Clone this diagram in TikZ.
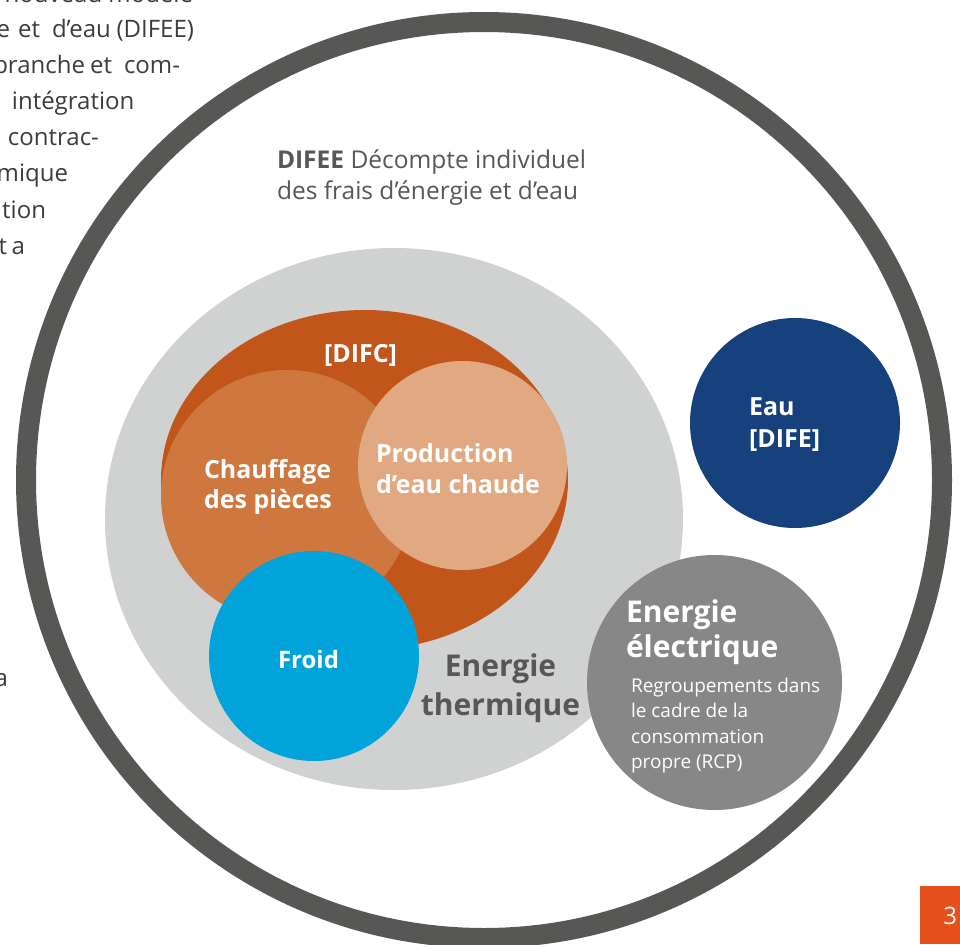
\documentclass[tikz,border=0pt]{standalone}
\usepackage{fontspec}
\setmainfont{Open Sans}
\definecolor{ringgray}{HTML}{575756}
\definecolor{lightgray}{HTML}{D0D2D1}
\definecolor{difc}{HTML}{C2561A}
\definecolor{chauf}{HTML}{CE773F}
\definecolor{prod}{HTML}{E1A981}
\definecolor{froid}{HTML}{00A3DA}
\definecolor{eau}{HTML}{16417C}
\definecolor{elec}{HTML}{878787}
\definecolor{pagered}{HTML}{E6501D}
\definecolor{bodytext}{HTML}{3C3C3B}
\begin{document}
\begin{tikzpicture}[x=1pt,y=-1pt,
  every node/.style={inner sep=0pt, outer sep=0pt},
  body/.style={font=\fontsize{24}{36}\selectfont, text=bodytext},
  caption/.style={font=\fontsize{24.5}{30}\selectfont, text=ringgray},
  inlabel/.style={font=\bfseries\fontsize{25}{30}\selectfont, text=white, anchor=base west},
  biglabel/.style={font=\bfseries\fontsize{30}{36}\selectfont},
  small/.style={font=\fontsize{19}{25}\selectfont, text=white, anchor=base west}]
\useasboundingbox (0,0) rectangle (960,944);
\begin{scope}
\clip (0,0) rectangle (960,944);
\fill[white] (0,0) rectangle (960,944);
% left column text fragments
\node[body, anchor=base east] (l1) at (193,3) {nouveau modèle};
\node[body, anchor=base east] (l2a) at (10,38) {e};
\node[body, anchor=base east] (l2b) at (40,38) {et};
\node[body, anchor=base west] (l2c) at (52,38) {d’eau};
\node[body, anchor=base east] (l2d) at (194,38) {(DIFEE)};
\node[body, anchor=base east] (l3a) at (85,74) {branche};
\node[body, anchor=base east] (l3b) at (112,74) {et};
\node[body, anchor=base east] (l3c) at (180,74) {com-};
\node[body, anchor=base west] (l4) at (12,110) {intégration};
\node[body, anchor=base west] (l5) at (8,146) {contrac-};
\node[body, anchor=base east] (l6) at (68,182) {mique};
\node[body, anchor=base east] (l7) at (46,218) {tion};
\node[body, anchor=base east] (l8a) at (7,254) {t};
\node[body, anchor=base east] (l8b) at (25,254) {a};
\node[body, anchor=base east] (l9) at (8,686) {a};
% outer ring
\draw[ringgray, line width=20pt] (484,480) circle[radius=458pt];
% circles
\fill[lightgray] (394,519) ellipse[x radius=289pt, y radius=271pt];
\fill[difc] (364.5,480) ellipse[x radius=203.5pt, y radius=170pt];
\fill[chauf] (287,496) circle[radius=126pt];
\fill[prod] (462.5,465.5) circle[radius=104.5pt];
\fill[froid] (314,656) circle[radius=105pt];
\fill[eau] (795,423) circle[radius=105pt];
\fill[elec] (714.5,682.5) circle[radius=127.5pt];
% caption
\node[caption, anchor=base west] (c1) at (277,169) {\textbf{DIFEE} Décompte individuel};
\node[caption, anchor=base west] (c2) at (277,199) {des frais d’énergie et d’eau};
% labels
\node[font=\bfseries\fontsize{25}{30}\selectfont, text=white, anchor=base] (difc) at (360.5,362) {[DIFC]};
\node[inlabel] (ch1) at (204,478) {Chauffage};
\node[inlabel] (ch2) at (204,508) {des pièces};
\node[inlabel] (pr1) at (376,462) {Production};
\node[inlabel] (pr2) at (376,493) {d’eau chaude};
\node[inlabel, font=\bfseries\fontsize{24}{30}\selectfont] (fr) at (278,668) {Froid};
\node[biglabel, text=ringgray, anchor=base] (th1) at (500.5,676) {Energie};
\node[biglabel, text=ringgray, anchor=base] (th2) at (500.5,715) {thermique};
\node[inlabel] (ea1) at (749,415) {Eau};
\node[inlabel] (ea2) at (749,447) {[DIFE]};
\node[biglabel, text=white, anchor=base west] (el1) at (626,622) {Energie};
\node[biglabel, text=white, anchor=base west] (el2) at (626,657) {électrique};
\node[small] (r1) at (631,692) {Regroupements dans};
\node[small] (r2) at (631,717) {le cadre de la};
\node[small] (r3) at (631,743) {consommation};
\node[small] (r4) at (631,768) {propre (RCP)};
% page number
\fill[pagered] (920,886) rectangle (960,944);
\node[font=\fontsize{24}{28}\selectfont, text=white, anchor=base east] (pg) at (957,924) {3};
\end{scope}
\end{tikzpicture}
\end{document}
